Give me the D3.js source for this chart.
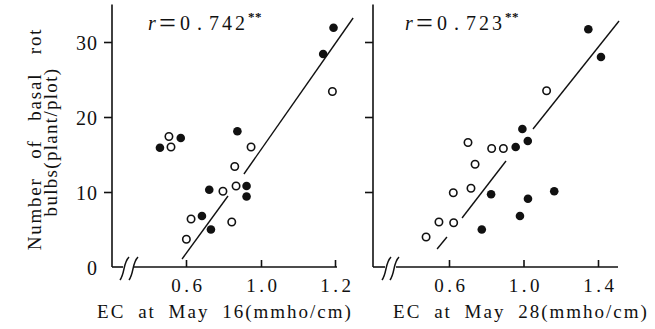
<!DOCTYPE html>
<html>
<head>
<meta charset="utf-8">
<script src="https://cdn.jsdelivr.net/npm/d3@7"></script>
<style>
  html, body { margin: 0; padding: 0; background: #fff; }
  svg { display: block; }
  svg text { font-family: "Liberation Serif", "Times New Roman", "DejaVu Serif", serif !important; fill: #111; }
</style>
</head>
<body>
<svg id="chart" width="655" height="329" font-family="Liberation Serif, serif"></svg>
<script>
// ---------------- data ----------------
const yTicks = [0, 10, 20, 30];
const yTickLabels = ["0", "10", "20", "30"];

const leftXTicks = [0.6, 1.0, 1.2];
const leftXTickLabels = ["0.6", "1.0", "1.2"];
const rightXTicks = [0.6, 1.0, 1.4];
const rightXTickLabels = ["0.6", "1.0", "1.4"];

const leftFilledX = [0.461, 0.572, 0.874, 0.724, 0.685, 0.733, 0.923, 0.923, 1.168, 1.196];
const leftFilledY = [15.9, 17.2, 18.1, 10.3, 6.8, 5.0, 10.8, 9.4, 28.4, 31.9];
const leftOpenX   = [0.509, 0.520, 0.627, 0.602, 0.797, 0.844, 0.867, 0.860, 0.947, 1.193];
const leftOpenY   = [17.4, 16.0, 6.4, 3.7, 10.1, 6.0, 10.8, 13.4, 16.0, 23.4];

const rightFilledX = [1.348, 1.416, 0.994, 1.023, 0.958, 0.826, 1.165, 1.024, 0.981, 0.776];
const rightFilledY = [31.7, 28.0, 18.4, 16.8, 16.0, 9.7, 10.1, 9.1, 6.8, 5.0];
const rightOpenX   = [1.124, 0.702, 0.829, 0.892, 0.740, 0.718, 0.623, 0.546, 0.625, 0.477];
const rightOpenY   = [23.5, 16.6, 15.8, 15.8, 13.7, 10.5, 9.9, 6.0, 5.9, 4.0];

// regression line pieces (drawn with gaps as in the original)
const leftLineSegs = [
  [[0.579, 1.07], [0.824, 9.47]],
  [[0.909, 12.4], [1.249, 33.2]]
];
const rightLineSegs = [
  [[0.536, 2.4], [0.589, 4.0]],
  [[0.670, 6.53], [0.906, 14.13]],
  [[1.051, 18.4], [1.513, 32.8]]
];

const leftR = ["0", ".", "742"], rightR = ["0", ".", "723"];
const leftXTitle = "EC at May 16(mmho/cm)";
const rightXTitle = "EC at May 28(mmho/cm)";
const yTitle1 = "Number of basal rot";
const yTitle2 = "bulbs(plant/plot)";

// ---------------- layout ----------------
const SERIF = "'Liberation Serif', 'Times New Roman', serif";
const svg = d3.select("#chart");
const yScale = d3.scaleLinear().domain([0, 35]).range([267, 4.5]);

const panels = [
  { ax: 112, axEnd: 337, dom: [0.6, 1.0, 1.2], off: [74, 149, 223],
    ticks: leftXTicks, tickLabels: leftXTickLabels,
    fx: leftFilledX, fy: leftFilledY, ox: leftOpenX, oy: leftOpenY,
    segs: leftLineSegs, r: leftR, rx: 148, title: leftXTitle, titleX: 225, yLabels: true,
    brk: { segEnd: 123, slashes: [120, 129], restart: 134 } },
  { ax: 373, axEnd: 618, dom: [0.6, 1.4], off: [76, 225],
    ticks: rightXTicks, tickLabels: rightXTickLabels,
    fx: rightFilledX, fy: rightFilledY, ox: rightOpenX, oy: rightOpenY,
    segs: rightLineSegs, r: rightR, rx: 405, title: rightXTitle, titleX: 521, yLabels: false,
    brk: { segEnd: 385, slashes: [382, 390], restart: 396 } }
];

panels.forEach(p => {
  const x = d3.scaleLinear().domain(p.dom).range(p.off.map(o => p.ax + o));
  const g = svg.append("g");
  const y0 = yScale(0);

  // y axis line
  g.append("line").attr("x1", p.ax).attr("x2", p.ax)
    .attr("y1", yScale(35)).attr("y2", y0)
    .attr("stroke", "#111").attr("stroke-width", 1.6);

  // y ticks (left, outward) - no tick mark at 0
  const yAxis = d3.axisLeft(yScale).tickValues(yTicks).tickSizeOuter(0).tickSizeInner(8).tickPadding(6)
    .tickFormat((d, i) => p.yLabels ? yTickLabels[i] : "");
  const ya = g.append("g").attr("transform", `translate(${p.ax},0)`).call(yAxis)
    .attr("font-family", SERIF);
  ya.select(".domain").remove();
  ya.selectAll(".tick line").attr("stroke", "#111").attr("stroke-width", 1.6)
    .attr("x2", d => d === 0 ? 0 : -8);
  ya.selectAll(".tick text").attr("font-size", 20).attr("fill", "#111")
    .style("font-family", SERIF).attr("letter-spacing", 1).attr("dy", "0.36em");

  // x axis baseline with break
  g.append("line").attr("x1", p.ax).attr("x2", p.brk.segEnd).attr("y1", y0).attr("y2", y0)
    .attr("stroke", "#111").attr("stroke-width", 1.6);
  g.append("line").attr("x1", p.brk.restart).attr("x2", p.axEnd).attr("y1", y0).attr("y2", y0)
    .attr("stroke", "#111").attr("stroke-width", 1.6);
  p.brk.slashes.forEach(sx => {
    g.append("path")
      .attr("d", `M${sx},${y0 + 13} C${sx + 5},${y0 + 6} ${sx + 3},${y0 - 4} ${sx + 9},${y0 - 10}`)
      .attr("fill", "none").attr("stroke", "#111").attr("stroke-width", 1.5);
  });

  // x ticks (upward) + labels
  const xAxis = d3.axisBottom(x).tickValues(p.ticks).tickSizeOuter(0).tickSizeInner(-7).tickPadding(12)
    .tickFormat((d, i) => p.tickLabels[i]);
  const xa = g.append("g").attr("transform", `translate(0,${y0})`).call(xAxis)
    .attr("font-family", SERIF);
  xa.select(".domain").remove();
  xa.selectAll(".tick line").attr("stroke", "#111").attr("stroke-width", 1.6);
  xa.selectAll(".tick text").attr("font-size", 19).attr("fill", "#111")
    .style("font-family", SERIF).attr("letter-spacing", 3.5).attr("dx", 1.75);

  // x title
  g.append("text").attr("x", p.titleX).attr("y", 318).attr("text-anchor", "middle")
    .attr("font-size", 19).attr("letter-spacing", 2).attr("word-spacing", 6)
    .style("font-family", SERIF)
    .text(p.title);

  // regression line pieces
  const line = d3.line().x(d => x(d[0])).y(d => yScale(d[1]));
  g.selectAll("path.reg").data(p.segs).enter().append("path").attr("class", "reg")
    .attr("d", line).attr("fill", "none").attr("stroke", "#111").attr("stroke-width", 1.4);

  // points
  g.selectAll("circle.filled").data(p.fx.map((v, i) => [v, p.fy[i]])).enter()
    .append("circle").attr("class", "filled")
    .attr("cx", d => x(d[0])).attr("cy", d => yScale(d[1])).attr("r", 4.3)
    .attr("fill", "#111");
  g.selectAll("circle.open").data(p.ox.map((v, i) => [v, p.oy[i]])).enter()
    .append("circle").attr("class", "open")
    .attr("cx", d => x(d[0])).attr("cy", d => yScale(d[1])).attr("r", 3.7)
    .attr("fill", "#fff").attr("stroke", "#111").attr("stroke-width", 1.6);

  // r label: r = 0.742 **
  const t = g.append("text").attr("y", 30).attr("font-size", 20).style("font-family", SERIF);
  t.append("tspan").attr("x", p.rx).attr("font-style", "italic").text("r");
  t.append("tspan").attr("x", p.rx + 11).attr("dy", 3).attr("font-size", 30).text("=");
  t.append("tspan").attr("x", p.rx + 32).attr("dy", -3).text(p.r[0]);
  t.append("tspan").attr("x", p.rx + 49).text(p.r[1]);
  t.append("tspan").attr("x", p.rx + 61).attr("letter-spacing", 3).text(p.r[2]);
  t.append("tspan").attr("x", p.rx + 100).attr("dy", -9).attr("font-size", 13)
    .attr("font-weight", "bold").attr("letter-spacing", 0.5).text("**");
});

// y title (two rotated lines)
const yt = svg.append("g").attr("transform", "translate(0,139)");
yt.append("text").attr("transform", "translate(41,0) rotate(-90)").attr("text-anchor", "middle")
  .attr("font-size", 19).attr("letter-spacing", 1.8).attr("word-spacing", 12)
  .style("font-family", SERIF).text(yTitle1);
yt.append("text").attr("transform", "translate(57,3) rotate(-90)").attr("text-anchor", "middle")
  .attr("font-size", 19).attr("letter-spacing", 1.3)
  .style("font-family", SERIF).text(yTitle2);
</script>
</body>
</html>
